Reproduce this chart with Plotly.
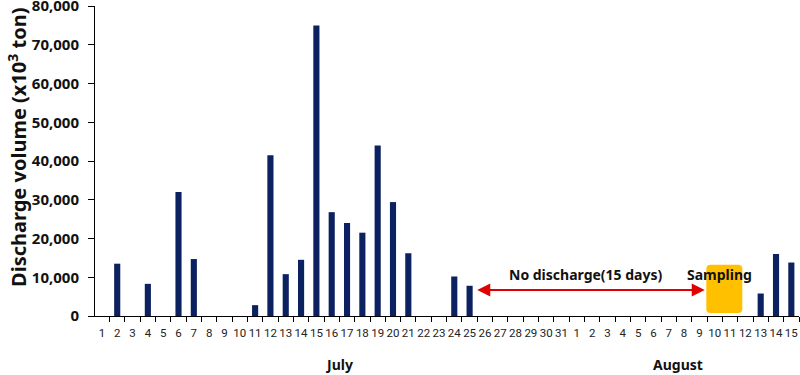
import plotly.graph_objects as go

july_days = list(range(1, 32))
aug_days = list(range(1, 16))
tick_labels = [str(d) for d in july_days] + [str(d) for d in aug_days]

# discharge volume (x10^3 ton), July 1..31 then Aug 1..15
july_values = [0, 13500, 0, 8300, 0, 32000, 14700, 0, 0, 0,
               2800, 41500, 10800, 14500, 75000, 26800, 24000, 21500, 44000, 29400,
               16200, 0, 0, 10200, 7800, 0, 0, 0, 0, 0, 0]
aug_values = [0, 0, 0, 0, 0, 0, 0, 0, 0, 0, 0, 0, 5800, 16000, 13800]
values = july_values + aug_values
xpos = list(range(len(values)))

fig = go.Figure()
fig.add_trace(go.Bar(x=xpos, y=values, marker_color="#0C215F", width=0.4,
                     marker_line_width=0, hoverinfo="skip"))

# Sampling box (Aug 10-11) with rounded corners
x0, x1, y0, y1 = 39.45, 41.8, 800, 13200
rx, ry = 0.28, 1000
path = (f"M {x0+rx},{y0} L {x1-rx},{y0} Q {x1},{y0} {x1},{y0+ry} "
        f"L {x1},{y1-ry} Q {x1},{y1} {x1-rx},{y1} L {x0+rx},{y1} "
        f"Q {x0},{y1} {x0},{y1-ry} L {x0},{y0+ry} Q {x0},{y0} {x0+rx},{y0} Z")
fig.add_shape(type="path", path=path, xref="x", yref="y",
              fillcolor="#FFC000", line_width=0, layer="below")

# red double arrow
fig.add_annotation(x=39.35, y=6700, ax=24.4, ay=6700, xref="x", yref="y",
                   axref="x", ayref="y", text="", showarrow=True,
                   arrowhead=2, startarrowhead=2, arrowside="end+start",
                   arrowsize=1.3, startarrowsize=1.3, arrowwidth=2, arrowcolor="#E00000")
fig.add_annotation(x=31.6, y=10700, xref="x", yref="y", text="<b>No discharge(15 days)</b>",
                   showarrow=False, font=dict(size=14, color="#111"))
fig.add_annotation(x=40.3, y=10700, xref="x", yref="y", text="<b>Sampling</b>",
                   showarrow=False, font=dict(size=14, color="#111"))

# month labels
fig.add_annotation(x=15.5, y=-0.158, xref="x", yref="paper", text="<b>July</b>",
                   showarrow=False, font=dict(size=14, color="#111"), yanchor="middle")
fig.add_annotation(x=37.6, y=-0.158, xref="x", yref="paper", text="<b>August</b>",
                   showarrow=False, font=dict(size=14, color="#111"), yanchor="middle")

# y-axis title
fig.add_annotation(x=-77 / 704, y=0.542, xref="paper", yref="paper",
                   text="<b>Discharge volume (x10<sup>3</sup> ton)</b>", textangle=-90,
                   showarrow=False, font=dict(size=20, color="#111"),
                   xanchor="center", yanchor="middle")

fig.update_layout(
    width=800, height=375,
    margin=dict(l=95, r=1, t=6, b=59),
    paper_bgcolor="white", plot_bgcolor="white",
    showlegend=False,
    font=dict(family="Noto Sans", color="#111"),
    bargap=0.6,
    xaxis=dict(
        range=[-0.45, 45.5], automargin=False,
        tickmode="array", tickvals=xpos, ticktext=tick_labels, tickangle=0,
        ticks="", tickfont=dict(size=11.5, color="#222", family="Roboto"),
        ticklabeloverflow="allow", ticklabelstandoff=6,
        showline=True, linecolor="black", linewidth=1,
        showgrid=False, zeroline=False,
        minor=dict(tickmode="array", tickvals=[i + 0.5 for i in range(-1, 46)],
                   ticks="outside", ticklen=5, tickcolor="black", showgrid=False),
    ),
    yaxis=dict(
        range=[0, 80000], tickmode="linear", dtick=10000, tickformat=",",
        automargin=False, ticklabeloverflow="allow", ticklabelstandoff=6,
        ticks="outside", ticklen=6, tickcolor="black",
        tickfont=dict(size=15, color="#111", family="Noto Sans", weight="bold"),
        showline=True, linecolor="black", linewidth=1,
        showgrid=False, zeroline=False,
    ),
)

fig.write_html("out.html", config={"displayModeBar": False},
               post_script="document.body.style.margin='0';")
